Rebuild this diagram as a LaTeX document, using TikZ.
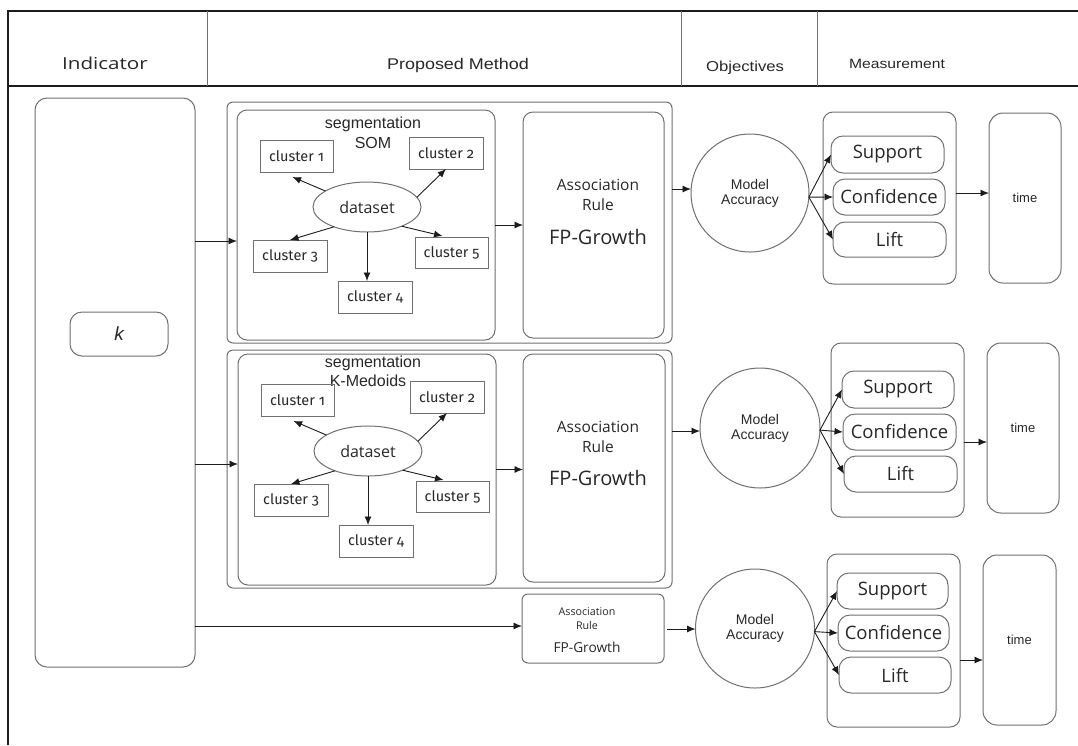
\documentclass[tikz,border=0pt]{standalone}
\usepackage{fontspec}
\setmainfont{Liberation Sans}
\newfontfamily\osans{Open Sans}
\newfontfamily\fsans[Numbers=OldStyle]{Fira Sans}
\newfontfamily\hdrO[FakeStretch=1.25]{Open Sans}
\newfontfamily\hdrL[FakeStretch=1.16]{Liberation Sans}
\usetikzlibrary{arrows.meta,calc,shapes.geometric}
\definecolor{ln}{RGB}{112,112,112}
\definecolor{ink}{RGB}{28,28,28}
\definecolor{tx}{RGB}{40,40,40}
\newcommand\setfs[1]{\fontsize{#1}{#1}\selectfont}
\newcommand\mkbox[7]{\node[#6, minimum width={(#4-#2)*1pt}, minimum height={(#5-#3)*1pt}] (#1) at ({(#2+#4)/2},{(#3+#5)/2}) {#7};}
\tikzset{
  rbox/.style={draw=ln, line width=1pt, rounded corners=#1, inner sep=0pt, outer sep=0pt, text=tx},
  rbox/.default=8pt,
  sqbox/.style={draw=ln, line width=1pt, inner sep=0pt, outer sep=0pt, text=tx},
  ell/.style={ellipse, draw=ln, line width=1pt, inner sep=0pt, outer sep=0pt, text=tx},
  circ/.style={circle, draw=ln, line width=1pt, inner sep=0pt, outer sep=0pt, text=tx, align=center, font=\setfs{14}},
  txt/.style={inner sep=0pt, outer sep=0pt, text=tx},
  arr/.style={draw=ink, line width=0.9pt, -{Latex[length=8.5pt,width=7pt]}},
  rule/.style={draw=ink, line width=2pt},
  divl/.style={draw=ln, line width=0.8pt}
}
\newcommand\clusters[2]{%
\begin{scope}[shift={#2}]
\mkbox{#1c1}{260}{140}{333}{172}{sqbox}{\fsans\setfs{14.5}cluster 1}
\mkbox{#1c2}{409}{137}{483}{169}{sqbox}{\fsans\setfs{14.5}cluster 2}
\mkbox{#1c3}{253}{240}{327}{272}{sqbox}{\fsans\setfs{14.5}cluster 3}
\mkbox{#1c5}{415}{237}{488}{268}{sqbox}{\fsans\setfs{14.5}cluster 5}
\mkbox{#1c4}{338}{281}{412}{313}{sqbox}{\fsans\setfs{14.5}cluster 4}
\node[ell, minimum width=108pt, minimum height=50pt] (#1ds) at (367,207) {\osans\setfs{16}dataset};
\end{scope}
\draw[arr] (#1ds.159) -- ([xshift=-4pt,yshift=-5pt]#1c1.south);
\draw[arr] (#1ds.11) -- (#1c2.south);
\draw[arr] (#1ds.211) -- (#1c3.north);
\draw[arr] (#1ds.331) -- ([xshift=-9pt,yshift=1pt]#1c5.north);
\draw[arr] (#1ds.south) -- (#1ds.south |- #1c4.north);
}
\begin{document}
\begin{tikzpicture}[x=1pt,y=-1pt]
\useasboundingbox (0,0) rectangle (1078,745);
\fill[white] (0,0) rectangle (1078,745);
% header
\draw[rule] (1078,11) -- (8,11) -- (8,745);
\draw[rule] (8,86) -- (1078,86);
\foreach \x in {207,681,817} \draw[divl] (\x,11) -- (\x,86);
\node[txt] (hInd) at (105,63) {\hdrO\setfs{16.5}Indicator};
\node[txt] (hPM) at (458,65) {\hdrL\setfs{15.5}Proposed Method};
\node[txt] (hObj) at (745,68) {\hdrL\setfs{14.4}Objectives};
\node[txt] (hMea) at (897,64) {\hdrL\setfs{13.5}Measurement};
% indicator
\mkbox{ind}{35}{98}{195}{667}{rbox=12pt}{}
\mkbox{kb}{70}{312}{168}{356}{rbox=12pt}{\setfs{19}\itshape k}
% panel 1
\mkbox{out1}{227}{102}{672}{343}{rbox=6pt}{}
\mkbox{seg1}{237}{110}{495}{340}{rbox=10pt}{}
\mkbox{as1}{523}{112}{664}{338}{rbox=10pt}{}
\node[txt] (s1a) at (373,124) {\setfs{16}segmentation};
\node[txt] (s1b) at (373,143) {\setfs{16}SOM};
\node[txt] (a1a) at (598,185) {\osans\setfs{15.5}Association};
\node[txt] (a1b) at (598,205) {\osans\setfs{15.5}Rule};
\node[txt] (a1c) at (598,237) {\osans\setfs{20}FP-Growth};
\clusters{A}{(0,0)}
% panel 2
\mkbox{out2}{227}{350}{672}{588}{rbox=6pt}{}
\mkbox{seg2}{238}{354}{496}{585}{rbox=10pt}{}
\mkbox{as2}{523}{354}{665}{582}{rbox=10pt}{}
\node[txt] (s2a) at (373,363) {\setfs{16}segmentation};
\node[txt] (s2b) at (368,381) {\setfs{16}K-Medoids};
\node[txt] (a2a) at (598,427) {\osans\setfs{15.5}Association};
\node[txt] (a2b) at (598,447) {\osans\setfs{15.5}Rule};
\node[txt] (a2c) at (598,478) {\osans\setfs{20}FP-Growth};
\clusters{B}{(1,244)}
% panel 3
\mkbox{as3}{522}{594}{664}{663}{rbox=6pt}{}
\node[txt] (a3a) at (587,612) {\osans\setfs{10.7}Association};
\node[txt] (a3b) at (587,625) {\osans\setfs{10.7}Rule};
\node[txt] (a3c) at (587,647) {\osans\setfs{13.7}FP-Growth};
% indicator arrows
\draw[arr] (ind.east |- 0,241) -- (seg1.west |- 0,241);
\draw[arr] (ind.east |- 0,464) -- (seg2.west |- 0,464);
\draw[arr] (ind.east |- 0,626) -- (as3.west |- 0,626);
\draw[arr] (seg1.east) -- (as1.west |- seg1.east);
\draw[arr] (seg2.east) -- (as2.west |- seg2.east);
% objectives
\node[circ, minimum size=118pt] (ma1) at (750,193) {Model\\[1pt]Accuracy};
\node[circ, minimum size=120pt] (ma2) at (760,428) {Model\\[1pt]Accuracy};
\node[circ, minimum size=119pt] (ma3) at (755,628.5) {Model\\[1pt]Accuracy};
\draw[arr] (out1.east |- 0,189) -- (ma1.west |- 0,189);
\draw[arr] (out2.east |- 0,431) -- (ma2.west |- 0,431);
\draw[arr] ([xshift=3pt]as3.east |- 0,629) -- (ma3.west |- 0,629);
% measurement
\mkbox{me1}{823}{112}{956}{284}{rbox=10pt}{}
\mkbox{su1}{831}{136}{944}{173}{rbox=12pt}{\osans\setfs{18.5}Support}
\mkbox{co1}{833}{179}{945}{215}{rbox=12pt}{\osans\setfs{18.5}Confidence}
\mkbox{li1}{833}{222}{946}{257}{rbox=12pt}{\osans\setfs{18.5}Lift}
\mkbox{ti1}{989}{113}{1061}{283}{rbox=14pt}{\setfs{13}time}
\mkbox{me2}{831}{343}{964}{517}{rbox=10pt}{}
\mkbox{su2}{842}{371}{954}{408}{rbox=12pt}{\osans\setfs{18.5}Support}
\mkbox{co2}{843}{414}{956}{450}{rbox=12pt}{\osans\setfs{18.5}Confidence}
\mkbox{li2}{844}{456}{957}{492}{rbox=12pt}{\osans\setfs{18.5}Lift}
\mkbox{ti2}{987}{343}{1059}{513}{rbox=14pt}{\setfs{13}time}
\mkbox{me3}{827}{554}{960}{727}{rbox=10pt}{}
\mkbox{su3}{837}{573}{948}{609}{rbox=12pt}{\osans\setfs{18.5}Support}
\mkbox{co3}{838}{615}{949}{651}{rbox=12pt}{\osans\setfs{18.5}Confidence}
\mkbox{li3}{839}{657}{951}{693}{rbox=12pt}{\osans\setfs{18.5}Lift}
\mkbox{ti3}{983}{555}{1056}{725}{rbox=14pt}{\setfs{13}time}
\foreach \p/\a in {1/-4,2/-2,3/-3}{
  \draw[arr] (ma\p.\a) -- (su\p.west);
  \draw[arr] (ma\p.\a) -- (co\p.west);
  \draw[arr] (ma\p.\a) -- (li\p.west);
}
\draw[arr] (me1.east |- 0,193) -- (ti1.west |- 0,193);
\draw[arr] (me2.east |- 0,442) -- (ti2.west |- 0,442);
\draw[arr] (me3.east |- 0,660) -- (ti3.west |- 0,660);
\end{tikzpicture}
\end{document}
